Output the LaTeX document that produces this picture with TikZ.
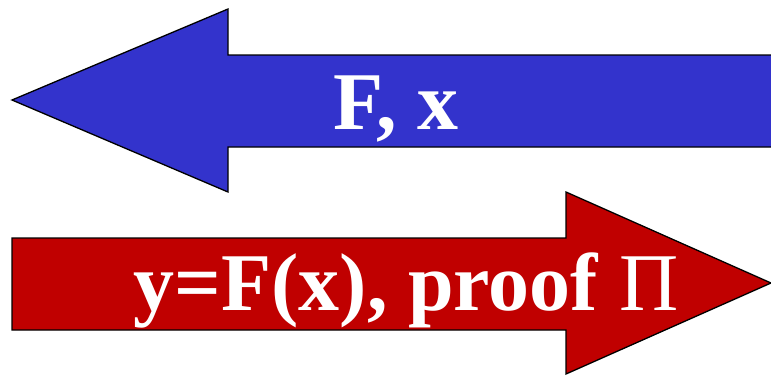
\documentclass[tikz,border=0pt]{standalone}
\usepackage{fontspec}
\setmainfont{Liberation Serif}
\definecolor{arrowblue}{RGB}{51,51,204}
\definecolor{arrowred}{RGB}{192,0,0}

\begin{document}
\begin{tikzpicture}[x=1pt,y=-1pt,
  bigarrow/.style={draw=black,line width=1.3pt,line join=miter},
  bigtext/.style={text=white,font=\fontsize{82}{82}\selectfont\bfseries,anchor=base,inner sep=0pt}]
  \useasboundingbox (0,0) rectangle (771,375);
  % left arrow
  \filldraw[bigarrow,fill=arrowblue] (12,100) -- (228,9) -- (228,55) -- (790,55)
    -- (790,147) -- (228,147) -- (228,192) -- cycle;
  % right arrow
  \filldraw[bigarrow,fill=arrowred] (12,238) -- (566,238) -- (566,192) -- (771,283)
    -- (566,374) -- (566,330) -- (12,330) -- cycle;
  \node[bigtext] (query) at (396,129) {F, x};
  \node[bigtext] (answer) at (406,310) {y=F(x), proof \textmd{Π}};
\end{tikzpicture}
\end{document}
